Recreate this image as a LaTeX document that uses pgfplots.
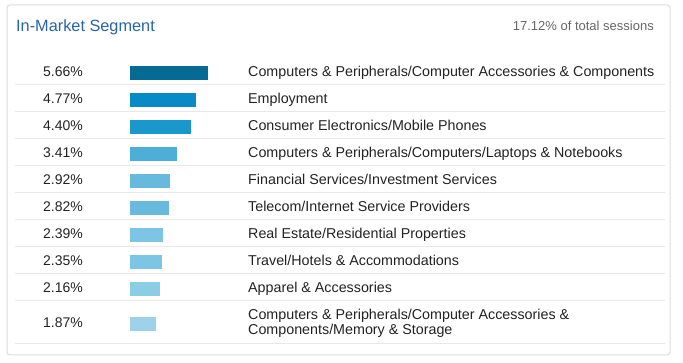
\documentclass[border=0pt]{standalone}
\usepackage{pgfplots}
\pgfplotsset{compat=1.18}
\usepackage{fontspec}
\setmainfont{Liberation Sans}
\definecolor{titleblue}{HTML}{2765A8}
\definecolor{txt}{HTML}{222222}
\definecolor{subtxt}{HTML}{666666}
\definecolor{cardline}{HTML}{DCDCDC}
\definecolor{rowline}{HTML}{E8E8E8}
\definecolor{c1}{HTML}{056A94}
\definecolor{c2}{HTML}{068BC6}
\definecolor{c3}{HTML}{1A98CC}
\definecolor{c4}{HTML}{4DAED8}
\definecolor{c5}{HTML}{68B9DE}
\definecolor{c6}{HTML}{68B9DE}
\definecolor{c7}{HTML}{7DC5E4}
\definecolor{c8}{HTML}{7DC5E4}
\definecolor{c9}{HTML}{8CCDE6}
\definecolor{c10}{HTML}{9ED2EA}
\begin{document}
\begin{tikzpicture}[x=1pt,y=1pt]
\path[use as bounding box] (0,0) rectangle (683,-363);
\draw[cardline, line width=1pt, rounded corners=3pt] (7,-5) rectangle (670,-355);
\node[anchor=base west, inner sep=0pt, text=titleblue, font=\fontsize{16.3}{19}\selectfont] at (16,-31.5) {In-Market Segment};
\node[anchor=base east, inner sep=0pt, text=subtxt, font=\fontsize{13}{16}\selectfont] at (654,-30.5) {17.12\% of total sessions};
\begin{axis}[
  at={(15pt,-57pt)}, anchor=north west,
  scale only axis, width=650pt, height=286pt,
  xmin=-8.3333, xmax=38.768,
  ymin=57, ymax=343, y dir=reverse,
  axis line style={draw=none},
  major tick length=0pt,
  xtick=\empty,
  ytick={73,100,127,154,181,208,235,262,289,324},
  yticklabels={5.66\%,4.77\%,4.40\%,3.41\%,2.92\%,2.82\%,2.39\%,2.35\%,2.16\%,1.87\%},
  yticklabel style={anchor=base west, inner sep=0pt, xshift=28pt, yshift=-3.5pt, text=txt, font=\fontsize{14}{17}\selectfont},
  extra y ticks={84,111,138,165,192,219,246,273,300,343},
  extra y tick labels={},
  extra y tick style={grid=major, major grid style={draw=rowline, line width=1pt}},
  xbar, bar width=14, bar shift=0pt,
  clip=false,
]
\addplot[fill=c1, draw=none] coordinates {(5.66,73)};
\addplot[fill=c2, draw=none] coordinates {(4.77,100)};
\addplot[fill=c3, draw=none] coordinates {(4.40,127)};
\addplot[fill=c4, draw=none] coordinates {(3.41,154)};
\addplot[fill=c5, draw=none] coordinates {(2.92,181)};
\addplot[fill=c6, draw=none] coordinates {(2.82,208)};
\addplot[fill=c7, draw=none] coordinates {(2.39,235)};
\addplot[fill=c8, draw=none] coordinates {(2.35,262)};
\addplot[fill=c9, draw=none] coordinates {(2.16,289)};
\addplot[fill=c10, draw=none] coordinates {(1.87,324)};
\begin{scope}[every node/.style={anchor=base west, inner sep=0pt, text=txt, font=\fontsize{14.3}{17}\selectfont}]
\node at (axis cs:8.551,76.5) {Computers \& Peripherals/Computer Accessories \& Components};
\node at (axis cs:8.551,103.5) {Employment};
\node at (axis cs:8.551,130.5) {Consumer Electronics/Mobile Phones};
\node at (axis cs:8.551,157.5) {Computers \& Peripherals/Computers/Laptops \& Notebooks};
\node at (axis cs:8.551,184.5) {Financial Services/Investment Services};
\node at (axis cs:8.551,211.5) {Telecom/Internet Service Providers};
\node at (axis cs:8.551,238.5) {Real Estate/Residential Properties};
\node at (axis cs:8.551,265.5) {Travel/Hotels \& Accommodations};
\node at (axis cs:8.551,292.5) {Apparel \& Accessories};
\node at (axis cs:8.551,319) {Computers \& Peripherals/Computer Accessories \&};
\node at (axis cs:8.551,334) {Components/Memory \& Storage};
\end{scope}
\end{axis}
\end{tikzpicture}
\end{document}
